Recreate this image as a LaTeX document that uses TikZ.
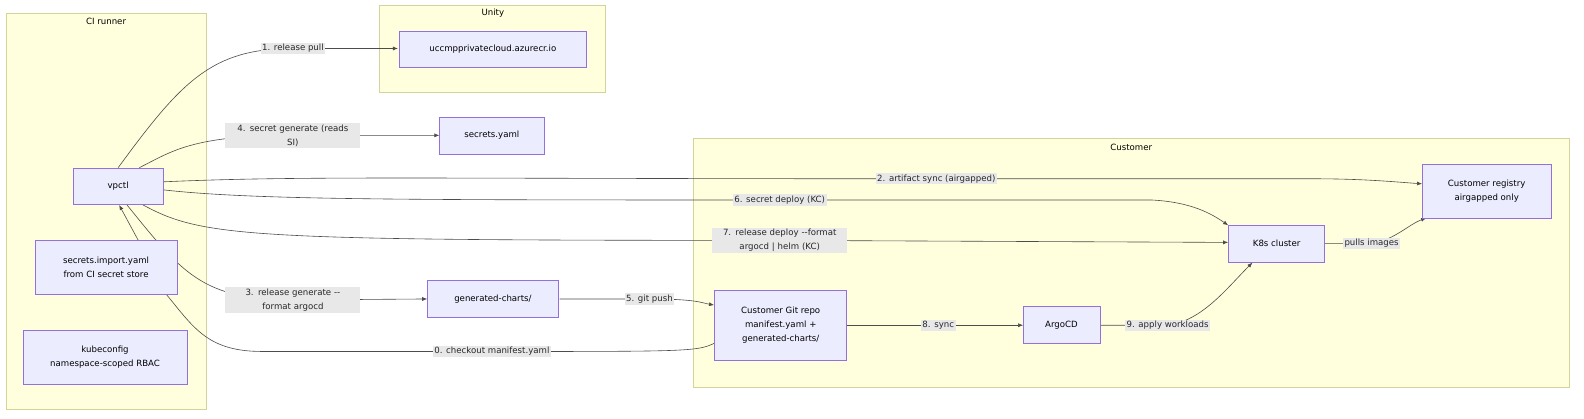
\documentclass[tikz,border=0pt]{standalone}
\usepackage{fontspec}
\setmainfont{DejaVu Sans}
\usetikzlibrary{arrows.meta}
\definecolor{grp}{HTML}{FFFFDE}
\definecolor{grpb}{HTML}{D4D49A}
\definecolor{nd}{HTML}{ECECFF}
\definecolor{ndb}{HTML}{9370DB}
\definecolor{lbl}{HTML}{E8E8E8}
\begin{document}
\begin{tikzpicture}[x=1.01pt,y=-1.01pt,
  font=\fontsize{8.6}{14}\selectfont,
  grp/.style={draw=grpb,fill=grp,line width=0.7pt},
  nd/.style={draw=ndb,fill=nd,line width=0.6pt,align=center,inner sep=0pt},
  lb/.style={fill=lbl,align=center,inner sep=1.5pt,text=black!85},
  ed/.style={draw=black!70,line width=0.6pt},
  ar/.style={ed,-{Latex[length=5pt,width=4pt]}}]
\useasboundingbox (0pt,0pt) rectangle (1584pt,-418pt);
\fill[white] (0pt,0pt) rectangle (1584pt,-418pt);
\draw[grp] (6,13) rectangle (204,405);
\draw[grp] (376,5) rectangle (599,91);
\draw[grp] (686,137) rectangle (1554,384);
\node (gci) at (105,21) {CI runner};
\node (gun) at (488,13) {Unity};
\node (gcu) at (1120,146) {Customer};
% label positions
\coordinate (c1) at (290,48);
\coordinate (c4) at (290,134);
\coordinate (c2) at (927,177);
\coordinate (c6) at (772,198);
\coordinate (c7) at (772,238);
\coordinate (c3) at (290,297);
\coordinate (c0) at (487,348);
\coordinate (c5) at (643,296);
\coordinate (c8) at (929,322);
\coordinate (c9) at (1156,322);
\coordinate (cp) at (1358,241);
% edges
\draw[ar] (117,166) .. controls (180,80) and (210,48) .. (c1) -- (394,48);
\draw[ar] (138,166) .. controls (170,150) and (190,134) .. (c4) -- (435,134);
\draw[ar] (162,180) .. controls (300,174) and (400,177) .. (c2) -- (1300,177) .. controls (1350,177) and (1380,180) .. (1408,182);
\draw[ar] (162,188) .. controls (250,198) and (400,198) .. (c6) -- (1140,198) .. controls (1180,200) and (1200,212) .. (1216,223);
\draw[ar] (140,202) .. controls (200,235) and (240,238) .. (c7) -- (1216,240);
\draw[ar] (125,202) .. controls (180,270) and (200,297) .. (c3) -- (423,296);
\draw[ed] (707,340) .. controls (690,348) and (680,348) .. (c0) -- (260,348) .. controls (200,348) and (190,320) .. (155,280);
\draw[ar] (138,240) -- (118,203);
\draw[ar] (554,296) -- (c5) .. controls (690,296) and (695,300) .. (707,302);
\draw[ar] (839,322) -- (1013,322);
\draw[ar] (1090,322) -- (c9) .. controls (1190,318) and (1215,285) .. (1240,260);
\draw[ar] (1312,241) -- (cp) .. controls (1380,238) and (1395,222) .. (1412,216);
% labels
\node[lb] (l1) at (c1) {1. release pull};
\node[lb,text width=132pt] (l4) at (c4) {4. secret generate (reads\\ SI)};
\node[lb] (l2) at (c2) {2. artifact sync (airgapped)};
\node[lb] (l6) at (c6) {6. secret deploy (KC)};
\node[lb,text width=132pt] (l7) at (c7) {7. release deploy -{}-format\\ argocd | helm (KC)};
\node[lb,text width=132pt] (l3) at (c3) {3. release generate -{}-\\ format argocd};
\node[lb] (l0) at (c0) {0. checkout manifest.yaml};
\node[lb] (l5) at (c5) {5. git push};
\node[lb] (l8) at (c8) {8. sync};
\node[lb] (l9) at (c9) {9. apply workloads};
\node[lb] (lp) at (cp) {pulls images};
% nodes
\node[nd,minimum width=187pt,minimum height=36pt] (ucc) at (488,49) {uccmpprivatecloud.azurecr.io};
\node[nd,minimum width=105pt,minimum height=37pt] (sy) at (487,134) {secrets.yaml};
\node[nd,minimum width=90pt,minimum height=36pt] (vpctl) at (117,184) {vpctl};
\node[nd,minimum width=142pt,minimum height=54pt] (si) at (105,265) {secrets.import.yaml\\from CI secret store};
\node[nd,minimum width=164pt,minimum height=54pt] (kc) at (104,354) {kubeconfig\\namespace-scoped RBAC};
\node[nd,minimum width=131pt,minimum height=37pt] (gc) at (488,296) {generated-charts/};
\node[nd,minimum width=132pt,minimum height=70pt] (git) at (773,322) {Customer Git repo\\manifest.yaml +\\generated-charts/};
\node[nd,minimum width=77pt,minimum height=37pt] (argo) at (1051,322) {ArgoCD};
\node[nd,minimum width=96pt,minimum height=37pt] (k8s) at (1264,241) {K8s cluster};
\node[nd,minimum width=129pt,minimum height=54pt] (reg) at (1472,189) {Customer registry\\airgapped only};
\end{tikzpicture}
\end{document}
